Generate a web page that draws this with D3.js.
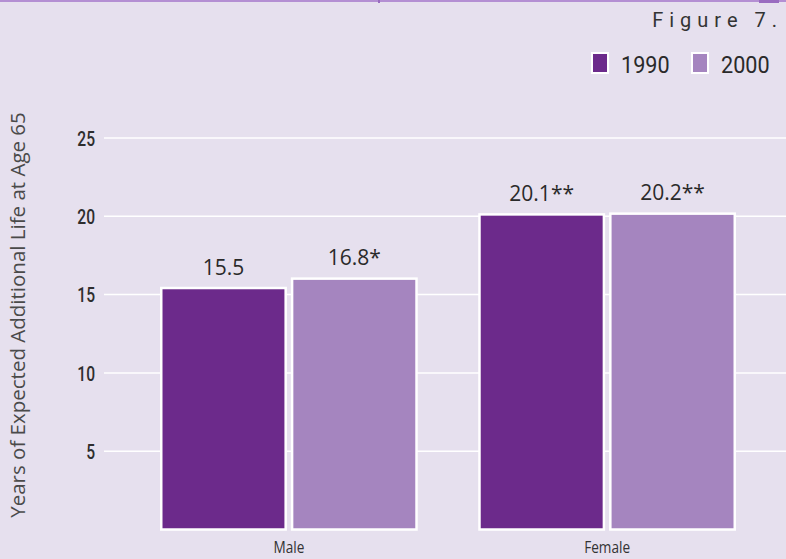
<!DOCTYPE html>
<html><head><meta charset="utf-8">
<script src="https://cdn.jsdelivr.net/npm/d3@7"></script>
<style>
html,body{margin:0;padding:0;background:#e6e0ee;}
svg{display:block;}
</style></head>
<body>
<svg id="chart" width="786" height="559"></svg>
<script>
const categories = ["Male", "Female"];
const seriesNames = ["1990", "2000"];
const values1990 = [15.5, 20.2];
const values2000 = [16.1, 20.25];
const labels1990 = ["15.5", "20.1**"];
const labels2000 = ["16.8*", "20.2**"];
const yTicks = [5, 10, 15, 20, 25];
const figureTitle = "Figure 7.";
const yTitle = "Years of Expected Additional Life at Age 65";
const colors = ["#6c2a8b", "#a585bf"];

const svg = d3.select("#chart");
const W = 786, H = 559;
svg.append("rect").attr("width", W).attr("height", H).attr("fill", "#e6e0ee");

// top rule
svg.append("rect").attr("x", 0).attr("y", 0).attr("width", W).attr("height", 2).attr("fill", "#b48fd3");
svg.append("rect").attr("x", 378).attr("y", 0).attr("width", 2).attr("height", 3).attr("fill", "#9a6cc0");
svg.append("rect").attr("x", 759).attr("y", 0).attr("width", 20).attr("height", 3).attr("fill", "#9a6cc0");

const cond = "'Roboto','Liberation Sans',sans-serif";
const humanist = "'Open Sans','Noto Sans',sans-serif";

svg.append("text").attr("x", 783).attr("y", 27).attr("text-anchor", "end")
  .attr("font-family", cond).attr("font-size", 20).attr("letter-spacing", "6px")
  .attr("fill", "#333").text(figureTitle);

const y = d3.scaleLinear().domain([0, 25]).range([529.5, 138]);
const x0 = d3.scaleBand().domain(categories).range([160, 736]).paddingInner(0.19).paddingOuter(0);
const x1 = d3.scaleBand().domain(seriesNames).range([0, x0.bandwidth()]).paddingInner(0.03);

// gridlines
svg.append("g").selectAll("line").data(yTicks).join("line")
  .attr("x1", 104).attr("x2", W).attr("y1", d => y(d)).attr("y2", d => y(d))
  .attr("stroke", "#ffffff").attr("stroke-width", 1.5);

// y axis labels
const yAxis = d3.axisLeft(y).tickValues(yTicks).tickSize(0).tickPadding(0);
const gy = svg.append("g").attr("transform", "translate(95,0)").call(yAxis);
gy.select(".domain").remove();
gy.selectAll("text").attr("font-family", cond).attr("font-size", 20).attr("font-weight", 500)
  .attr("fill", "#2e2e2e").attr("dy", "0.36em").attr("transform", "scale(0.78,1)");

// y title
svg.append("text").attr("transform", `translate(25,${(112+518)/2}) rotate(-90)`)
  .attr("text-anchor", "middle").attr("font-family", humanist).attr("font-size", 20.5)
  .attr("fill", "#4a4a4a").text(yTitle);

// bars
const rows = categories.map((c, i) => ({cat: c, items: [
  {s: seriesNames[0], v: values1990[i], lab: labels1990[i]},
  {s: seriesNames[1], v: values2000[i], lab: labels2000[i]}
]}));
const g = svg.append("g").selectAll("g").data(rows).join("g")
  .attr("transform", d => `translate(${x0(d.cat)},0)`);
g.selectAll("rect").data(d => d.items).join("rect")
  .attr("x", d => x1(d.s) + 1.25).attr("width", x1.bandwidth() - 2.5)
  .attr("y", d => y(d.v) + 1.25).attr("height", d => y(0) - y(d.v) - 1.25)
  .attr("fill", (d, i) => colors[i]).attr("stroke", "#ffffff").attr("stroke-width", 2.5);
g.selectAll("text.lab").data(d => d.items).join("text").attr("class", "lab")
  .attr("x", d => x1(d.s) + x1.bandwidth() / 2).attr("y", d => y(d.v) - 12)
  .attr("text-anchor", "middle").attr("font-family", humanist).attr("font-size", 21)
  .attr("fill", "#2a2a2a").text(d => d.lab);

// x axis labels
const xAxis = d3.axisBottom(x0).tickSize(0).tickPadding(0);
const gx = svg.append("g").attr("transform", "translate(0,542)").call(xAxis);
gx.select(".domain").remove();
gx.selectAll("text").attr("font-family", humanist).attr("font-size", 16)
  .attr("fill", "#333").attr("dy", "0.71em").attr("transform", "scale(0.85,1)")
  .attr("x", 0);

// legend
const legendX = [591, 691];
const lg = svg.append("g").selectAll("g").data(seriesNames).join("g")
  .attr("transform", (d, i) => `translate(${legendX[i]},52)`);
lg.append("rect").attr("x", 1).attr("y", 1).attr("width", 16).attr("height", 20)
  .attr("fill", (d, i) => colors[i]).attr("stroke", "#fff").attr("stroke-width", 2);
lg.append("g").attr("transform", "translate(30,21)")
  .append("text").attr("font-family", cond).attr("font-size", 24)
  .attr("transform", "scale(0.9,1)").attr("fill", "#2a2a2a").text(d => d);
</script>
</body></html>
